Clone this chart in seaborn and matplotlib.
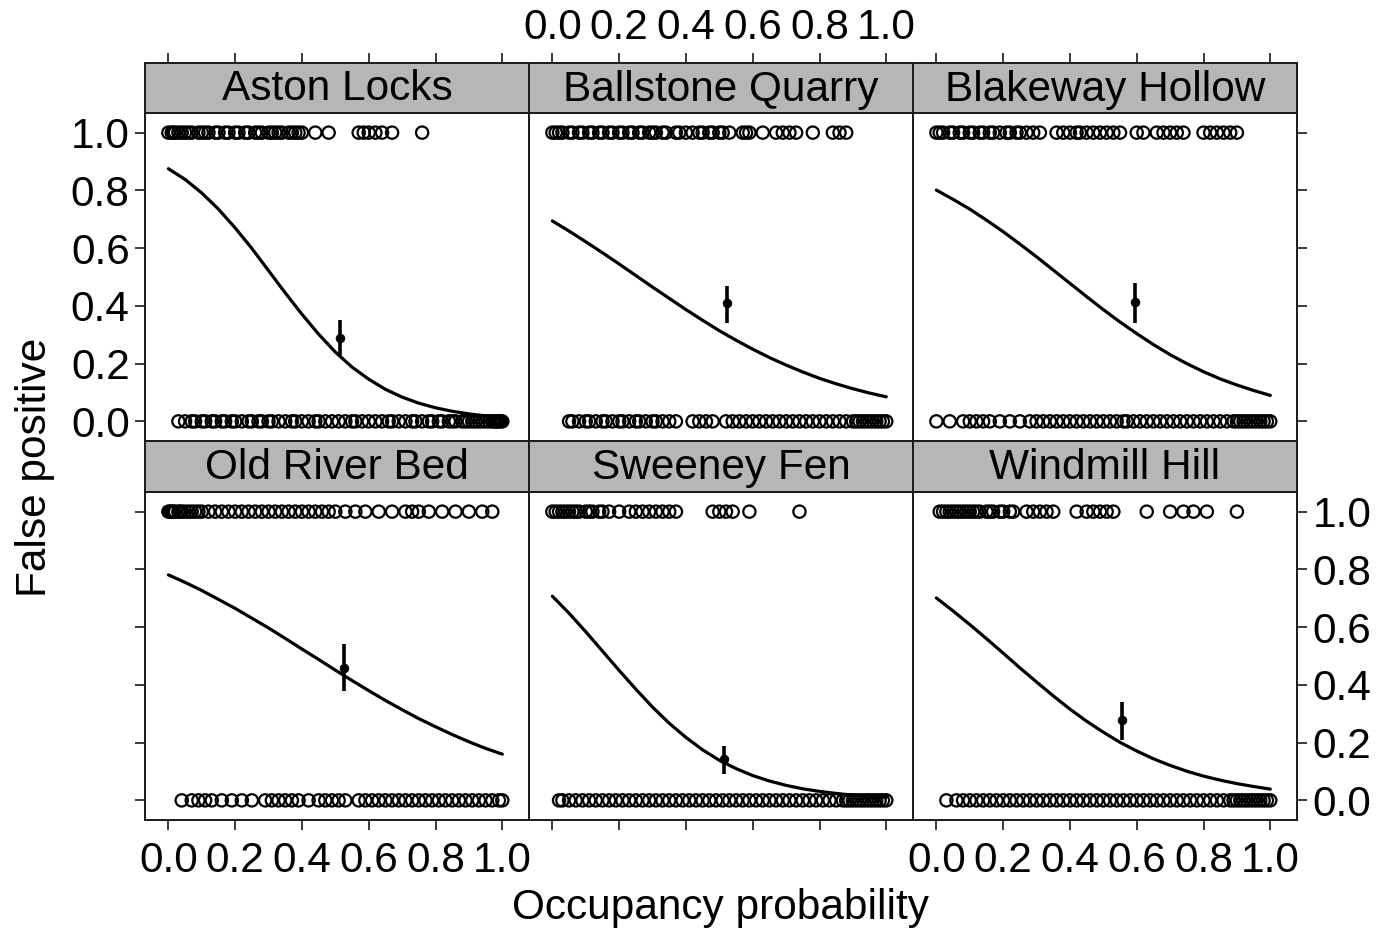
import numpy as np
import pandas as pd
import matplotlib
matplotlib.use("Agg")
import matplotlib.pyplot as plt
import seaborn as sns

sns.set_style("white")
plt.rcParams['font.family'] = ['Liberation Sans', 'DejaVu Sans']
plt.rcParams['text.color'] = 'black'
plt.rcParams['xtick.color'] = 'black'
plt.rcParams['ytick.color'] = 'black'

sites = ["Aston Locks", "Ballstone Quarry", "Blakeway Hollow",
         "Old River Bed", "Sweeney Fen", "Windmill Hill"]

# observed occupancy probabilities where false positive = 1
aston_top = [0.00, 0.01, 0.015, 0.02, 0.03, 0.04, 0.05, 0.06, 0.07, 0.09, 0.10, 0.11, 0.12, 0.14,
             0.15, 0.17, 0.18, 0.20, 0.21, 0.23, 0.24, 0.26, 0.27, 0.28, 0.30, 0.31, 0.32, 0.33,
             0.34, 0.36, 0.37, 0.38, 0.39, 0.40, 0.44, 0.48, 0.57, 0.585, 0.60, 0.62, 0.64, 0.67, 0.76]
ballstone_top = [0.00, 0.01, 0.02, 0.03, 0.05, 0.06, 0.08, 0.09, 0.11, 0.12, 0.14, 0.15, 0.17, 0.18,
                 0.20, 0.21, 0.23, 0.24, 0.26, 0.27, 0.29, 0.30, 0.31, 0.33, 0.34, 0.37, 0.38, 0.40,
                 0.42, 0.44, 0.45, 0.47, 0.48, 0.50, 0.51, 0.53, 0.57, 0.58, 0.59, 0.63, 0.67, 0.69,
                 0.71, 0.73, 0.78, 0.84, 0.86, 0.88]
blakeway_top = [0.00, 0.01, 0.02, 0.04, 0.05, 0.07, 0.08, 0.10, 0.11, 0.13, 0.14, 0.16, 0.17, 0.19,
                0.21, 0.22, 0.24, 0.25, 0.27, 0.29, 0.31, 0.36, 0.38, 0.40, 0.42, 0.43, 0.45, 0.47,
                0.49, 0.51, 0.53, 0.55, 0.60, 0.62, 0.66, 0.68, 0.70, 0.72, 0.74, 0.80, 0.82, 0.84,
                0.86, 0.88, 0.90]
oldriver_top = [0.00, 0.005, 0.01, 0.015, 0.02, 0.03, 0.035, 0.04, 0.05, 0.06, 0.07, 0.08, 0.09,
                0.10, 0.12, 0.14, 0.16, 0.18, 0.20, 0.22, 0.24, 0.26, 0.28, 0.30, 0.32, 0.34, 0.36,
                0.38, 0.40, 0.42, 0.44, 0.46, 0.48, 0.50, 0.53, 0.56, 0.59, 0.63, 0.67, 0.71, 0.73,
                0.75, 0.78, 0.82, 0.86, 0.90, 0.94, 0.97]
sweeney_top = [0.00, 0.01, 0.02, 0.03, 0.04, 0.05, 0.06, 0.07, 0.08, 0.10, 0.11, 0.12, 0.14, 0.15,
               0.17, 0.20, 0.23, 0.25, 0.27, 0.29, 0.31, 0.33, 0.35, 0.37, 0.48, 0.50, 0.52, 0.54,
               0.59, 0.74]
windmill_top = [0.01, 0.02, 0.03, 0.04, 0.05, 0.06, 0.07, 0.08, 0.09, 0.10, 0.11, 0.12, 0.13, 0.15,
                0.16, 0.17, 0.19, 0.20, 0.22, 0.23, 0.27, 0.29, 0.31, 0.33, 0.35, 0.42, 0.45, 0.47,
                0.49, 0.51, 0.53, 0.63, 0.70, 0.74, 0.77, 0.81, 0.90]

# observed occupancy probabilities where false positive = 0
aston_bottom = [0.03, 0.05, 0.07, 0.08, 0.10, 0.11, 0.13, 0.14, 0.16, 0.17, 0.19, 0.20, 0.22, 0.24,
                0.25, 0.27, 0.28, 0.30, 0.31, 0.33, 0.35, 0.37, 0.38, 0.40, 0.42, 0.44, 0.45, 0.47,
                0.49, 0.51, 0.53, 0.55, 0.56, 0.58, 0.60, 0.62, 0.64, 0.66, 0.67, 0.69, 0.71, 0.73,
                0.74, 0.76, 0.78, 0.79, 0.81, 0.82, 0.84, 0.85, 0.86, 0.88, 0.89, 0.90, 0.91, 0.92,
                0.93, 0.94, 0.95, 0.96, 0.97, 0.975, 0.98, 0.985, 0.99, 0.995, 1.00]
ballstone_bottom = [0.05, 0.06, 0.08, 0.10, 0.11, 0.13, 0.15, 0.16, 0.18, 0.20, 0.21, 0.23, 0.25,
                    0.26, 0.28, 0.30, 0.31, 0.33, 0.35, 0.37, 0.42, 0.44, 0.46, 0.48, 0.52, 0.54,
                    0.56, 0.58, 0.60, 0.62, 0.64, 0.66, 0.68, 0.70, 0.72, 0.74, 0.76, 0.78, 0.80,
                    0.82, 0.84, 0.86, 0.88, 0.90, 0.91, 0.92, 0.93, 0.94, 0.95, 0.96, 0.97, 0.98,
                    0.99, 1.00]
blakeway_bottom = [0.00, 0.04, 0.08, 0.10, 0.12, 0.14, 0.16, 0.19, 0.22, 0.25, 0.28, 0.30, 0.32,
                   0.34, 0.36, 0.38, 0.40, 0.42, 0.44, 0.46, 0.48, 0.50, 0.52, 0.54, 0.56, 0.57,
                   0.59, 0.61, 0.63, 0.65, 0.67, 0.69, 0.71, 0.73, 0.75, 0.77, 0.79, 0.81, 0.83,
                   0.85, 0.87, 0.89, 0.90, 0.91, 0.92, 0.93, 0.94, 0.95, 0.96, 0.97, 0.98, 0.99, 1.00]
oldriver_bottom = [0.04, 0.07, 0.09, 0.11, 0.13, 0.16, 0.19, 0.22, 0.25, 0.29, 0.31, 0.33, 0.35,
                   0.37, 0.39, 0.42, 0.45, 0.47, 0.49, 0.51, 0.53, 0.57, 0.59, 0.61, 0.63, 0.65,
                   0.67, 0.69, 0.71, 0.73, 0.75, 0.77, 0.79, 0.81, 0.83, 0.85, 0.87, 0.89, 0.91,
                   0.93, 0.95, 0.97, 0.99, 1.00]
sweeney_bottom = [0.02, 0.03, 0.05, 0.07, 0.09, 0.11, 0.13, 0.15, 0.17, 0.19, 0.21, 0.23, 0.25,
                  0.27, 0.29, 0.31, 0.33, 0.35, 0.37, 0.39, 0.41, 0.43, 0.45, 0.47, 0.49, 0.51,
                  0.53, 0.55, 0.57, 0.59, 0.61, 0.63, 0.65, 0.67, 0.69, 0.71, 0.73, 0.75, 0.77,
                  0.79, 0.81, 0.83, 0.85, 0.87, 0.88, 0.89, 0.90, 0.91, 0.92, 0.93, 0.94, 0.95,
                  0.96, 0.97, 0.98, 0.99, 1.00]
windmill_bottom = [0.03, 0.06, 0.08, 0.10, 0.12, 0.14, 0.16, 0.18, 0.20, 0.22, 0.24, 0.26, 0.28,
                   0.30, 0.32, 0.34, 0.36, 0.38, 0.40, 0.42, 0.44, 0.46, 0.48, 0.50, 0.52, 0.54,
                   0.56, 0.58, 0.60, 0.62, 0.64, 0.66, 0.68, 0.70, 0.72, 0.74, 0.76, 0.78, 0.80,
                   0.82, 0.84, 0.86, 0.88, 0.89, 0.90, 0.91, 0.92, 0.93, 0.94, 0.95, 0.96, 0.97,
                   0.98, 0.99, 1.00]

# fitted curves, read at occupancy = 0, 0.05, ..., 1.0
curve_x = [0.00, 0.05, 0.10, 0.15, 0.20, 0.25, 0.30, 0.35, 0.40, 0.45, 0.50,
           0.55, 0.60, 0.65, 0.70, 0.75, 0.80, 0.85, 0.90, 0.95, 1.00]
aston_curve = [0.875, 0.838, 0.791, 0.735, 0.670, 0.599, 0.522, 0.445, 0.371, 0.302, 0.240,
               0.188, 0.146, 0.111, 0.084, 0.063, 0.047, 0.035, 0.026, 0.019, 0.014]
ballstone_curve = [0.694, 0.659, 0.622, 0.584, 0.545, 0.505, 0.465, 0.426, 0.387, 0.350, 0.314,
                   0.281, 0.250, 0.221, 0.195, 0.171, 0.149, 0.130, 0.113, 0.098, 0.085]
blakeway_curve = [0.801, 0.769, 0.735, 0.697, 0.657, 0.614, 0.570, 0.524, 0.478, 0.432, 0.387,
                  0.344, 0.304, 0.266, 0.231, 0.200, 0.172, 0.147, 0.126, 0.107, 0.090]
oldriver_curve = [0.781, 0.755, 0.727, 0.696, 0.665, 0.631, 0.597, 0.561, 0.524, 0.488, 0.451,
                  0.415, 0.380, 0.346, 0.314, 0.283, 0.255, 0.228, 0.203, 0.180, 0.160]
sweeney_curve = [0.707, 0.648, 0.584, 0.517, 0.450, 0.385, 0.323, 0.267, 0.218, 0.175, 0.139,
                 0.110, 0.086, 0.067, 0.052, 0.040, 0.031, 0.024, 0.018, 0.014, 0.011]
windmill_curve = [0.701, 0.656, 0.609, 0.560, 0.510, 0.459, 0.410, 0.362, 0.316, 0.274, 0.236,
                  0.201, 0.171, 0.144, 0.121, 0.101, 0.084, 0.070, 0.058, 0.048, 0.039]

# site estimates with intervals
est_x = [0.515, 0.524, 0.596, 0.527, 0.515, 0.557]
est_y = [0.29, 0.41, 0.415, 0.46, 0.145, 0.28]
est_lo = [0.23, 0.34, 0.34, 0.38, 0.09, 0.21]
est_hi = [0.35, 0.47, 0.48, 0.54, 0.19, 0.34]

tops = [aston_top, ballstone_top, blakeway_top, oldriver_top, sweeney_top, windmill_top]
bottoms = [aston_bottom, ballstone_bottom, blakeway_bottom, oldriver_bottom, sweeney_bottom, windmill_bottom]
curves = [aston_curve, ballstone_curve, blakeway_curve, oldriver_curve, sweeney_curve, windmill_curve]

W, H = 1390, 934
fig = plt.figure(figsize=(W / 100, H / 100), dpi=100)


def fa(x0, y0, x1, y1):
    return [x0 / W, 1 - y1 / H, (x1 - x0) / W, (y1 - y0) / H]


col_edges = [(145, 529), (529, 913), (913, 1297)]
row_strip = [(63, 113), (441, 492)]
row_panel = [(113, 441), (492, 820)]
FS = 30.5
edge = "#1a1a1a"
ticks = [0.0, 0.2, 0.4, 0.6, 0.8, 1.0]

for i, name in enumerate(sites):
    r, c = divmod(i, 3)
    x0, x1 = col_edges[c]
    ax = fig.add_axes(fa(x0, row_panel[r][0], x1, row_panel[r][1]))
    sax = fig.add_axes(fa(x0, row_strip[r][0], x1, row_strip[r][1]), sharex=ax)

    obs = pd.DataFrame({
        "occ": list(tops[i]) + list(bottoms[i]),
        "fp": [1.0] * len(tops[i]) + [0.0] * len(bottoms[i]),
    })
    sns.scatterplot(data=obs, x="occ", y="fp", ax=ax, marker="o", s=78,
                    facecolor="none", edgecolor="black", linewidth=1.6, zorder=2)
    cdf = pd.DataFrame({"occ": curve_x, "fp": curves[i]})
    sns.lineplot(data=cdf, x="occ", y="fp", ax=ax, color="black", linewidth=2.3, zorder=3)
    ax.vlines(est_x[i], est_lo[i], est_hi[i], color="black", linewidth=2.6, zorder=4)
    sns.scatterplot(x=[est_x[i]], y=[est_y[i]], ax=ax, color="black", s=40,
                    edgecolor="black", zorder=5)

    ax.set_xlim(-0.07, 1.08)
    ax.set_ylim(-0.068, 1.068)
    ax.set_xticks(ticks)
    ax.set_yticks(ticks)
    ax.set_xlabel("")
    ax.set_ylabel("")
    for sp in ax.spines.values():
        sp.set_color(edge)
        sp.set_linewidth(1.4)
    ax.tick_params(axis="both", direction="out", length=7, width=1.2, color=edge,
                   labelsize=FS, pad=4, labelcolor="black",
                   bottom=(r == 1), labelbottom=(r == 1 and c != 1),
                   top=False, labeltop=False,
                   left=(c == 0), labelleft=(c == 0 and r == 0),
                   right=(c == 2), labelright=(c == 2 and r == 1))
    ax.tick_params(axis="x", pad=8)

    sax.set_facecolor("#b6b6b6")
    sax.set_yticks([])
    sax.text(0.5, 0.47, name, transform=sax.transAxes, ha="center", va="center",
             fontsize=FS, color="black")
    for sp in sax.spines.values():
        sp.set_color(edge)
        sp.set_linewidth(1.4)
    sax.tick_params(axis="x", direction="out", length=7, width=1.2, color=edge,
                    labelsize=FS, pad=4, labelcolor="black",
                    bottom=False, labelbottom=False,
                    top=(r == 0), labeltop=(r == 0 and c == 1))
    sax.tick_params(axis="y", left=False, right=False, labelleft=False)

fig.text(35 / W, 1 - 467 / H, "False positive", rotation=90, ha="center", va="center",
         fontsize=FS, color="black")
fig.text(721 / W, 1 - 908 / H, "Occupancy probability", ha="center", va="center",
         fontsize=FS, color="black")

fig.savefig("out.png", dpi=100, facecolor="white")
